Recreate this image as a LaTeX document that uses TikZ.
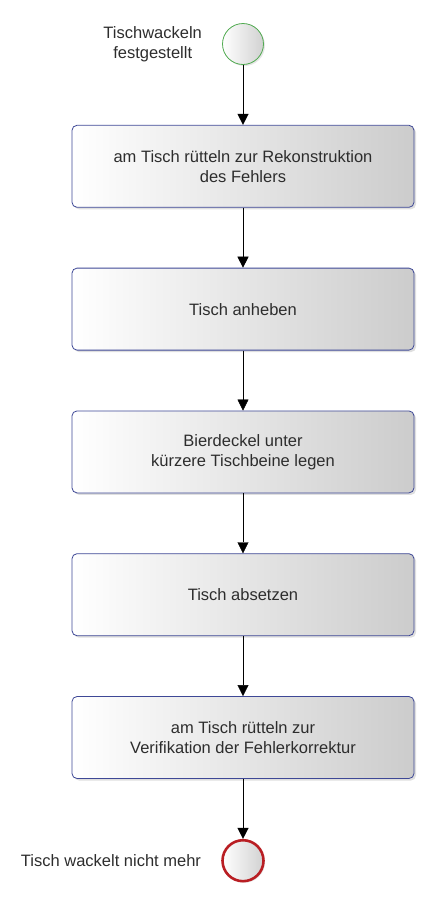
\documentclass[tikz,border=0pt]{standalone}
\usepackage{fontspec}
\setmainfont{Liberation Sans}
\usepackage{tikz}
\usetikzlibrary{positioning, arrows.meta, shadows}
\definecolor{taskline}{RGB}{62,72,150}
\definecolor{startline}{RGB}{80,170,80}
\definecolor{endline}{RGB}{185,30,35}
\definecolor{labeltext}{RGB}{45,45,45}
\tikzset{
	>={Triangle[width=11pt,length=11pt]},
	node distance=60pt,
	every node/.style={text=labeltext, font=\fontsize{16.5}{20}\selectfont},
	task/.style={draw=taskline, thick, rounded corners=5pt, minimum width=342pt, minimum height=82pt, align=center, left color=white, right color=black!20, drop shadow={opacity=0.25, shadow xshift=2pt, shadow yshift=-2pt}},
	event/.style={circle, minimum size=41pt, inner sep=0pt, left color=white, right color=black!18, drop shadow={opacity=0.2, shadow xshift=1.5pt, shadow yshift=-1.5pt}},
	flow/.style={->, black, thin},
}

\begin{document}
\begin{tikzpicture}[x=1pt, y=1pt]
	\useasboundingbox (0,0) rectangle (436,-900);
	
	\node[event, draw=startline, thick] (START) at (243,-44) {};
	\node[task, below=of START] (SHAKE1) {am Tisch rütteln zur Rekonstruktion\\des Fehlers};
	\node[task, below=of SHAKE1] (LIFT) {Tisch anheben};
	\node[task, below=of LIFT] (COASTER) {Bierdeckel unter\\ kürzere Tischbeine legen};
	\node[task, below=of COASTER] (LOWER) {Tisch absetzen};
	\node[task, below=of LOWER] (SHAKE2) {am Tisch rütteln zur\\ Verifikation der Fehlerkorrektur};
	\node[event, draw=endline, line width=2.6pt, below=of SHAKE2] (END) {};
	
	\node[align=center, inner sep=0pt, left=20pt of START] (STARTLBL) {Tischwackeln\\festgestellt};
	\node[inner sep=0pt, left=20pt of END] (ENDLBL) {Tisch wackelt nicht mehr};
	
	\draw[flow] (START) -- (SHAKE1);
	\draw[flow] (SHAKE1) -- (LIFT);
	\draw[flow] (LIFT) -- (COASTER);
	\draw[flow] (COASTER) -- (LOWER);
	\draw[flow] (LOWER) -- (SHAKE2);
	\draw[flow] (SHAKE2) -- (END);
	
\end{tikzpicture}
\end{document}
